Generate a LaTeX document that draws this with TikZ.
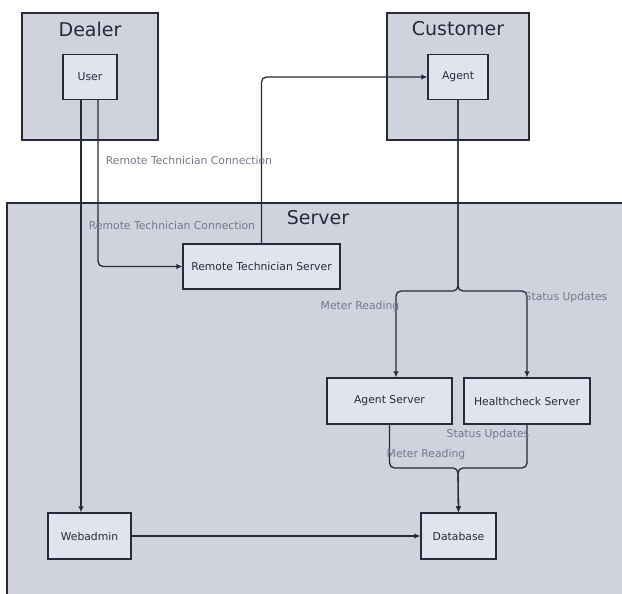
\documentclass[tikz,border=0pt]{standalone}
\usepackage{fontspec}
\setmainfont{DejaVu Sans}
\usetikzlibrary{positioning,arrows.meta}
\definecolor{grpfill}{RGB}{208,210,222}
\definecolor{boxfill}{RGB}{225,227,238}
\definecolor{ink}{RGB}{40,42,58}
\definecolor{lbl}{RGB}{118,120,138}

\begin{document}
\begin{tikzpicture}[x=1pt,y=-1pt,
  grp/.style={draw=ink, line width=1.2pt, fill=grpfill},
  box/.style={draw=ink, line width=1.2pt, fill=boxfill, text=ink, inner sep=0pt, minimum height=45pt, font=\fontsize{10.8}{13}\selectfont},
  conn/.style={draw=ink, line width=1.3pt, rounded corners=5pt, -{Latex[length=6pt,width=5.5pt]}},
  lab/.style={text=lbl, inner sep=0pt, font=\fontsize{10.8}{13}\selectfont},
  ttl/.style={text=ink, inner sep=0pt, font=\fontsize{19}{22}\selectfont}]
\useasboundingbox (0,0) rectangle (622,594);
\clip (0,0) rectangle (622,594);

% groups
\draw[grp] (22,13) rectangle (158,140);
\node[ttl] (dealerttl) at (90,29) {Dealer};
\draw[grp] (387,13) rectangle (529,140);
\node[ttl] (customerttl) at (458,29) {Customer};
\draw[grp] (7,203) rectangle (640,610);
\node[ttl] (serverttl) at (318,218) {Server};

% boxes
\node[box, minimum width=54pt] (user) at (90,77) {User};
\node[box, minimum width=60pt] (agent) at (458,77) {Agent};
\node[box, minimum width=157pt] (rts) at (261.5,266.5) {Remote Technician Server};
\node[box, minimum width=125pt, minimum height=46pt] (asrv) at (389.5,401) {Agent Server};
\node[box, minimum width=126pt, minimum height=46pt] (hsrv) at (527,401) {Healthcheck Server};
\node[box, minimum width=83pt, minimum height=46pt] (webadmin) at (89.5,536) {Webadmin};
\node[box, minimum width=75pt, minimum height=46pt] (db) at (458.5,536) {Database};

\coordinate (split) at (458,291);
\coordinate (merge) at (458,468);

% connections
\draw[conn] ([xshift=-9pt]user.south) -- ([xshift=-9pt]user.south |- webadmin.north);
\draw[conn] ([xshift=8pt]user.south) |- (rts.west);
\draw[conn] (rts.north) |- (agent.west);
\draw[conn] (agent.south) -- (split) -| ([xshift=6.5pt]asrv.north);
\draw[conn] (agent.south) -- (split) -| (hsrv.north);
\draw[conn] (asrv.south) |- (merge) -- (db.north);
\draw[conn] (hsrv.south) |- (merge) -- (db.north);
\draw[conn] (webadmin) -- (db);

% labels
\node[lab] (rtc1) at (189,160) {Remote Technician Connection};
\node[lab] (rtc2) at (172,225) {Remote Technician Connection};
\node[lab] (meter1) at (360,307) {Meter Reading};
\node[lab] (status1) at (566,298) {Status Updates};
\node[lab] (status2) at (488,435) {Status Updates};
\node[lab] (meter2) at (426,455) {Meter Reading};
\end{tikzpicture}
\end{document}
